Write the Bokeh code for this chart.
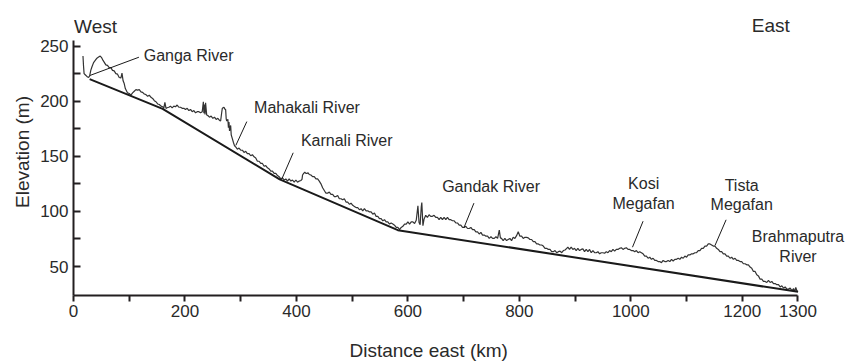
from bokeh.plotting import figure
from bokeh.models import Range1d, FixedTicker, Label, Title, LinearAxis
from bokeh.embed import file_html
from bokeh.resources import INLINE

# Elevation profile (distance east in km, elevation in m)
profile_km = [17, 18, 19, 21, 24, 27, 29, 31, 33, 36, 39, 42, 45, 48, 51, 53, 55, 58, 61, 64,
              67, 70, 73, 76, 79, 82, 85, 87, 89, 91, 93, 95, 97, 100, 103, 106, 109, 112, 115, 118,
              121, 124, 127, 130, 133, 136, 139, 142, 145, 148, 151, 154, 157, 160, 162, 164, 166, 168, 171, 174,
              177, 180, 183, 186, 189, 192, 195, 198, 201, 204, 207, 210, 213, 216, 219, 222, 225, 228, 231, 233,
              234, 235, 236, 237, 239, 241, 244, 247, 250, 253, 256, 259, 262, 264, 266, 267, 270, 272, 273, 274,
              275, 277, 278, 279, 280, 282, 283, 285, 287, 289, 291, 294, 297, 300, 303, 306, 309, 312, 315, 318,
              321, 324, 327, 330, 333, 336, 339, 342, 345, 348, 351, 354, 357, 360, 363, 366, 369, 372, 375, 378,
              381, 384, 387, 390, 393, 396, 399, 402, 405, 408, 410, 411, 413, 415, 417, 419, 421, 423, 426, 429,
              432, 435, 438, 441, 444, 447, 450, 453, 456, 459, 462, 465, 468, 471, 474, 477, 480, 483, 486, 489,
              492, 495, 498, 501, 504, 507, 510, 513, 516, 519, 522, 525, 528, 531, 534, 537, 540, 543, 546, 549,
              552, 555, 558, 561, 564, 567, 570, 573, 576, 579, 582, 585, 588, 591, 594, 597, 600, 603, 606, 609,
              612, 615, 618, 620, 622, 624, 625, 627, 629, 632, 635, 638, 641, 644, 647, 650, 653, 656, 659, 662,
              665, 668, 671, 674, 677, 680, 683, 686, 689, 692, 695, 698, 701, 704, 707, 710, 713, 716, 719, 722,
              725, 728, 731, 734, 737, 740, 743, 746, 749, 752, 755, 758, 761, 764, 766, 768, 771, 774, 777, 780,
              783, 786, 789, 792, 795, 798, 801, 804, 807, 810, 813, 816, 819, 822, 825, 828, 831, 834, 837, 840,
              843, 846, 849, 852, 855, 858, 861, 864, 867, 870, 873, 876, 879, 882, 885, 887, 890, 893, 896, 899,
              902, 905, 908, 911, 914, 917, 920, 923, 926, 929, 932, 935, 938, 941, 944, 947, 950, 953, 956, 959,
              962, 965, 968, 971, 974, 977, 980, 983, 986, 989, 992, 995, 998, 1001, 1004, 1007, 1010, 1013, 1016, 1019,
              1022, 1025, 1028, 1031, 1034, 1037, 1040, 1043, 1046, 1049, 1052, 1055, 1058, 1061, 1064, 1067, 1070, 1073, 1076, 1079,
              1082, 1085, 1088, 1091, 1094, 1097, 1100, 1103, 1106, 1109, 1112, 1115, 1118, 1121, 1124, 1127, 1130, 1133, 1136, 1139,
              1142, 1145, 1148, 1151, 1154, 1157, 1160, 1163, 1166, 1169, 1172, 1175, 1178, 1181, 1184, 1187, 1190, 1193, 1196, 1199,
              1202, 1205, 1208, 1211, 1214, 1217, 1220, 1223, 1226, 1229, 1232, 1235, 1238, 1241, 1244, 1247, 1250, 1253, 1256, 1259,
              1262, 1265, 1268, 1271, 1274, 1277, 1280, 1283, 1286, 1289, 1292, 1294, 1296, 1298, 1300]
profile_m = [241, 232, 225, 224, 222.5, 221.5, 223, 228, 231, 235, 237, 239, 240, 241, 239, 237, 235.5, 233, 232.5, 230.5,
             230.5, 228, 227.5, 225, 224.5, 221.5, 221, 225.5, 218.5, 216, 211.5, 209.5, 207.5, 207, 205.5, 207.5, 209, 210.5, 210, 210.5,
             208.5, 208, 206.5, 206, 204.5, 205.5, 203.5, 202.5, 200.5, 199.5, 197.5, 197, 195.5, 195, 193.5, 199, 193.5, 194, 194.5, 195.5,
             194, 195.5, 195, 196.5, 194.5, 194.5, 193.5, 193.5, 192.5, 193.5, 191.5, 192.5, 190.5, 191.5, 189.5, 190.5, 190.5, 189.5, 190.5, 199.5,
             189, 197, 188, 198.5, 187.5, 187, 185.5, 186.5, 184.5, 185.5, 183.5, 184.5, 182.5, 182, 190, 193.5, 194.5, 192.5, 192.5, 184,
             182, 183.5, 176, 181, 173, 178, 169.5, 166, 162.5, 159.5, 158.5, 156.5, 157.5, 155.5, 155.5, 153.5, 154.5, 152.5, 152.5, 150.5,
             151.5, 149.5, 148.5, 145.5, 145.5, 143.5, 143.5, 141, 141.5, 139.5, 138.5, 136.5, 136.5, 134.5, 134.5, 132.5, 131.5, 129.5, 130.5, 128.5,
             129.5, 127.5, 129.5, 127.5, 128.5, 126.5, 128.5, 126.5, 127.5, 128, 129, 133, 134.5, 135.5, 134.5, 134.5, 135, 133.5, 133, 131.5,
             131.5, 129.5, 129.5, 127.5, 125, 121.5, 119, 116.5, 116.5, 117.5, 115.5, 115.5, 113.5, 113.5, 114.5, 111.5, 111.5, 110.5, 111.5, 108.5,
             108.5, 106.5, 107.5, 105.5, 104.5, 103.5, 103.5, 101.5, 102.5, 100.5, 102.5, 100.5, 100.5, 99.5, 99.5, 97.5, 98.5, 95.5, 95.5, 93.5,
             93.5, 91.5, 92.5, 90.5, 90.5, 88.5, 89.5, 88.5, 87.5, 85.5, 85.5, 83.5, 85.5, 86.5, 88.5, 88.5, 90.5, 88.5, 90.5, 90.5,
             89, 92, 105, 90, 88, 104, 108, 87, 93, 96.5, 94.5, 97, 95.5, 95.5, 96.5, 94.5, 94.5, 92.5, 94.5, 92.5,
             94.5, 92.5, 94.5, 92.5, 92.5, 91.5, 91.5, 89.5, 89.5, 87.5, 87.5, 85.5, 85.5, 86.5, 84.5, 84.5, 85.5, 83.5, 83.5, 81.5,
             81.5, 79.5, 81, 78.5, 78.5, 77.5, 77.5, 75.5, 77, 75.5, 75.5, 77, 75.5, 83, 76, 75.5, 73.5, 75.5, 73.5, 74.5,
             75.5, 73.5, 76.5, 75.5, 78, 81.5, 77.5, 77.5, 75.5, 76.5, 76.5, 76, 74.5, 74.5, 72.5, 72.5, 70.5, 70.5, 69.5, 69.5,
             68.5, 66.5, 66.5, 65.5, 65.5, 63.5, 63.5, 64.5, 62.5, 63.5, 64, 62.5, 64.5, 65, 66.5, 67.5, 65.5, 67.5, 65.5, 66.5,
             64.5, 66.5, 64.5, 65.5, 66, 63.5, 65.5, 63.5, 65.5, 62.5, 64.5, 62.5, 62.5, 63.5, 61.5, 62.5, 62.5, 62, 63.5, 62.5,
             64.5, 63.5, 65.5, 64, 65.5, 65.5, 66.5, 67, 65.5, 66.5, 67, 65.5, 65.5, 64.5, 64.5, 63.5, 64.5, 62.5, 63.5, 62.5,
             61.5, 59.5, 59.5, 57.5, 58.5, 56.5, 57.5, 55.5, 55.5, 54.5, 54.5, 53.5, 55.5, 54.5, 54.5, 55.5, 54.5, 56.5, 55, 56.5,
             56.5, 57.5, 56.5, 58.5, 57.5, 59.5, 58.5, 60.5, 60.5, 61.5, 61.5, 62.5, 62.5, 64.5, 64.5, 66.5, 66.5, 68.5, 68.5, 70.5,
             70.5, 69.5, 68.5, 68.5, 66.5, 65.5, 63.5, 63.5, 61.5, 61.5, 59.5, 59.5, 57.5, 58.5, 56.5, 57.5, 55.5, 55.5, 54.5, 54.5,
             52.5, 52.5, 51.5, 51.5, 49.5, 48.5, 45.5, 45.5, 42.5, 41.5, 38.5, 38.5, 36.5, 36.5, 35.5, 37.5, 35.5, 36.5, 34.5, 34.5,
             33.5, 33.5, 31.5, 32.5, 30.5, 31.5, 29.5, 29.5, 30.5, 28, 30, 27, 31, 28, 27]

# Straight reference line (km, m)
trend_km = [29, 160, 370, 582, 1300]
trend_m = [220, 193, 129, 83, 27]

# Ticks
x_major_ticks = [0, 200, 400, 600, 800, 1000, 1200, 1300]
x_minor_ticks = [100, 300, 500, 700, 900, 1100]
y_major_ticks = [50, 100, 150, 200, 250]
y_minor_ticks = [75, 125, 175, 225]

# Annotation texts
river_names = ["Ganga River", "Mahakali River", "Karnali River", "Gandak River"]
fan_names = [["Kosi", "Megafan"], ["Tista", "Megafan"], ["Brahmaputra", "River"]]

FONT = "Liberation Sans"
TXT = "#2a2a2a"
AX = "#231f20"

X_MIN, X_MAX = 0, 1300
Y_MIN, Y_MAX = 23.7, 255

# frame extends to the right edge and near the top so that the side texts are not clipped
p = figure(width=851, height=362, output_backend="svg", toolbar_location=None,
           x_range=Range1d(X_MIN, 1396), y_range=Range1d(Y_MIN, 284.1),
           min_border_left=73, min_border_right=0, min_border_top=8, min_border_bottom=67)
p.outline_line_color = None
p.xgrid.visible = False
p.ygrid.visible = False
p.background_fill_color = "white"

# profile and straight line
p.line(profile_km, profile_m, line_color="#333333", line_width=1.2)
p.line(trend_km, trend_m, line_color="#1a1a1a", line_width=2)

# axes
xa = p.xaxis[0]
xa.ticker = FixedTicker(ticks=x_major_ticks, minor_ticks=x_minor_ticks)
xa.bounds = (X_MIN, X_MAX)
ya = p.yaxis[0]
ya.ticker = FixedTicker(ticks=y_major_ticks, minor_ticks=y_minor_ticks)
ya.bounds = (Y_MIN, Y_MAX)
ya.axis_label = "Elevation (m)"
for ax in (xa, ya):
    ax.axis_line_color = AX
    ax.axis_line_width = 2
    ax.major_tick_line_color = AX
    ax.minor_tick_line_color = AX
    ax.major_tick_line_width = 2
    ax.minor_tick_line_width = 2
    ax.major_label_text_font = FONT
    ax.major_label_text_font_size = "17px"
    ax.major_label_text_color = TXT
    ax.axis_label_text_font = FONT
    ax.axis_label_text_font_size = "19px"
    ax.axis_label_text_font_style = "normal"
    ax.axis_label_text_color = TXT
xa.major_tick_in = 0
xa.major_tick_out = 6
xa.minor_tick_in = 0
xa.minor_tick_out = 6
xa.major_label_standoff = 3
ya.major_tick_in = 7
ya.major_tick_out = 0
ya.minor_tick_in = 7
ya.minor_tick_out = 0
ya.major_label_standoff = 5
ya.axis_label_standoff = 4

# invisible spacer axis below the x axis (transparent tick, no label drawn)
spacer = LinearAxis(ticker=FixedTicker(ticks=[650], minor_ticks=[]),
                    axis_line_color=None,
                    major_tick_line_alpha=0, minor_tick_line_alpha=0,
                    major_tick_in=0, major_tick_out=18, minor_tick_out=0,
                    major_label_text_alpha=0, major_label_standoff=0)

# x axis title, placed under the axis span (the frame extends further right)
x_title = Title(text="Distance east (km)", align="left", offset=276,
                text_font=FONT, text_font_size="19px", text_font_style="normal",
                text_color=TXT, standoff=0)
p.below = [xa, spacer, x_title]

# West / East
p.add_layout(Label(x=1, y=267.4, text="West", text_font=FONT, text_font_size="19px",
                   text_color=TXT, text_align="left", text_baseline="middle"))
p.add_layout(Label(x=1217, y=268.3, text="East", text_font=FONT, text_font_size="19px",
                   text_color=TXT, text_align="left", text_baseline="middle"))

# river labels (left aligned)
river_pos = [(126, 241.5), (324, 194.3), (408, 164.3), (661.5, 122.6)]
for name, (tx, ty) in zip(river_names, river_pos):
    p.add_layout(Label(x=tx, y=ty, text=name, text_font=FONT, text_font_size="16px",
                       text_color=TXT, text_align="left", text_baseline="middle"))

# two-line labels (centred)
fan_pos = [(1023, 125.4, 107.2), (1199, 123.5, 106.2), (1300, 77.1, 59.0)]
for (l1, l2), (tx, y1, y2) in zip(fan_names, fan_pos):
    p.add_layout(Label(x=tx, y=y1, text=l1, text_font=FONT, text_font_size="16px",
                       text_color=TXT, text_align="center", text_baseline="middle"))
    p.add_layout(Label(x=tx, y=y2, text=l2, text_font=FONT, text_font_size="16px",
                       text_color=TXT, text_align="center", text_baseline="middle"))

# leader lines
lead_x0 = [29.3, 291.2, 374, 700.5, 1003, 1151]
lead_y0 = [223.3, 159.8, 129.6, 85.1, 67.5, 69.0]
lead_x1 = [117.4, 311, 394.2, 718.5, 1022, 1171]
lead_y1 = [239.9, 181.5, 153.2, 107.5, 91.1, 92.4]
p.segment(lead_x0, lead_y0, lead_x1, lead_y1, line_color="#1a1a1a", line_width=1)

open("out.html", "w").write(file_html(p, INLINE))
